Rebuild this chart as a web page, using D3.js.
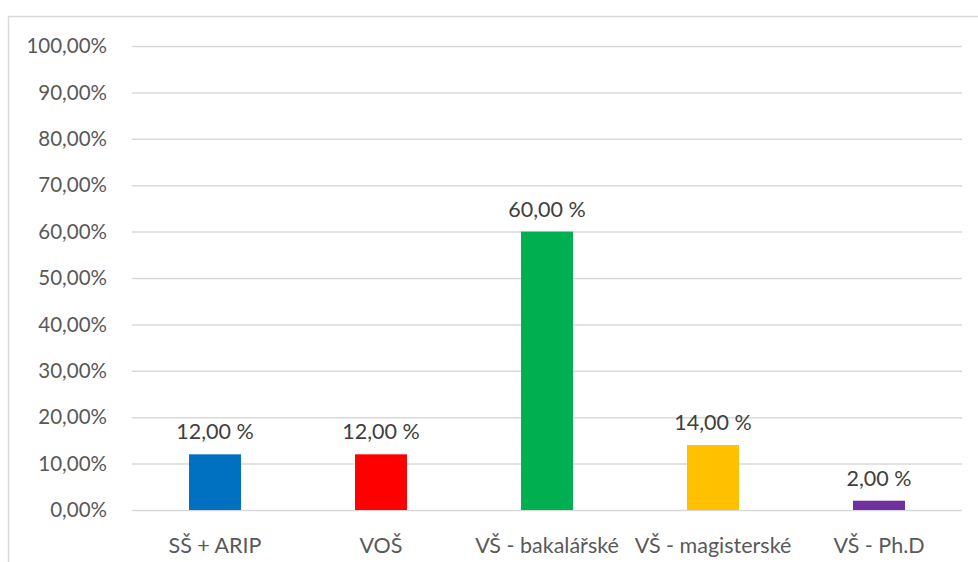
<!DOCTYPE html>
<html><head><meta charset="utf-8">
<script src="https://cdn.jsdelivr.net/npm/d3@7"></script>
<style>body{margin:0;background:#fff}svg{display:block}text{font-family:Lato,"Open Sans",sans-serif}</style>
</head><body>
<svg id="c" width="978" height="562"></svg>
<script>
const categories = ["SŠ + ARIP","VOŠ","VŠ - bakalářské","VŠ - magisterské","VŠ - Ph.D"];
const values = [12, 12, 60, 14, 2];
const labels = ["12,00 %","12,00 %","60,00 %","14,00 %","2,00 %"];
const colors = ["#0070C0","#FF0000","#00B050","#FFC000","#7030A0"];
const ticks = [0,10,20,30,40,50,60,70,80,90,100];
const tickLabels = ["0,00%","10,00%","20,00%","30,00%","40,00%","50,00%","60,00%","70,00%","80,00%","90,00%","100,00%"];

(function(){
const svg = d3.select("#c");
svg.append("rect").attr("x",8.5).attr("y",16.5).attr("width",1000).attr("height",600)
  .attr("fill","#fff").attr("stroke","#d9d9d9").attr("stroke-width",1.5);

const pL=132, pR=962, pT=46, pB=510;
const x = d3.scaleBand().domain(categories).range([pL,pR]).paddingInner(0.687).paddingOuter(0.3435);
const y = d3.scaleLinear().domain([0,100]).range([pB,pT]);

const g = svg.append("g");
g.selectAll("line.grid").data(ticks).join("line").attr("class","grid")
  .attr("x1",pL).attr("x2",pR).attr("y1",d=>y(d)+0.5).attr("y2",d=>y(d)+0.5)
  .attr("stroke","#d9d9d9").attr("stroke-width",1.5);

g.selectAll("text.tick").data(ticks).join("text").attr("class","tick")
  .attr("x",107).attr("y",d=>y(d)).attr("dy","0.35em").attr("text-anchor","end")
  .attr("font-size",20.5).attr("fill","#595959").text((d,i)=>tickLabels[i]);

g.selectAll("rect.bar").data(values).join("rect").attr("class","bar")
  .attr("x",(d,i)=>x(categories[i])).attr("width",x.bandwidth())
  .attr("y",d=>y(d)).attr("height",d=>y(0)-y(d)).attr("fill",(d,i)=>colors[i]);

g.selectAll("text.lbl").data(values).join("text").attr("class","lbl")
  .attr("x",(d,i)=>x(categories[i])+x.bandwidth()/2).attr("y",d=>y(d)-15)
  .attr("text-anchor","middle").attr("font-size",21.5).attr("fill","#404040").text((d,i)=>labels[i]);

g.selectAll("text.cat").data(categories).join("text").attr("class","cat")
  .attr("x",d=>x(d)+x.bandwidth()/2).attr("y",545).attr("dy","0.35em")
  .attr("text-anchor","middle").attr("font-size",21.5).attr("fill","#595959").text(d=>d);
})();
</script>
</body></html>
